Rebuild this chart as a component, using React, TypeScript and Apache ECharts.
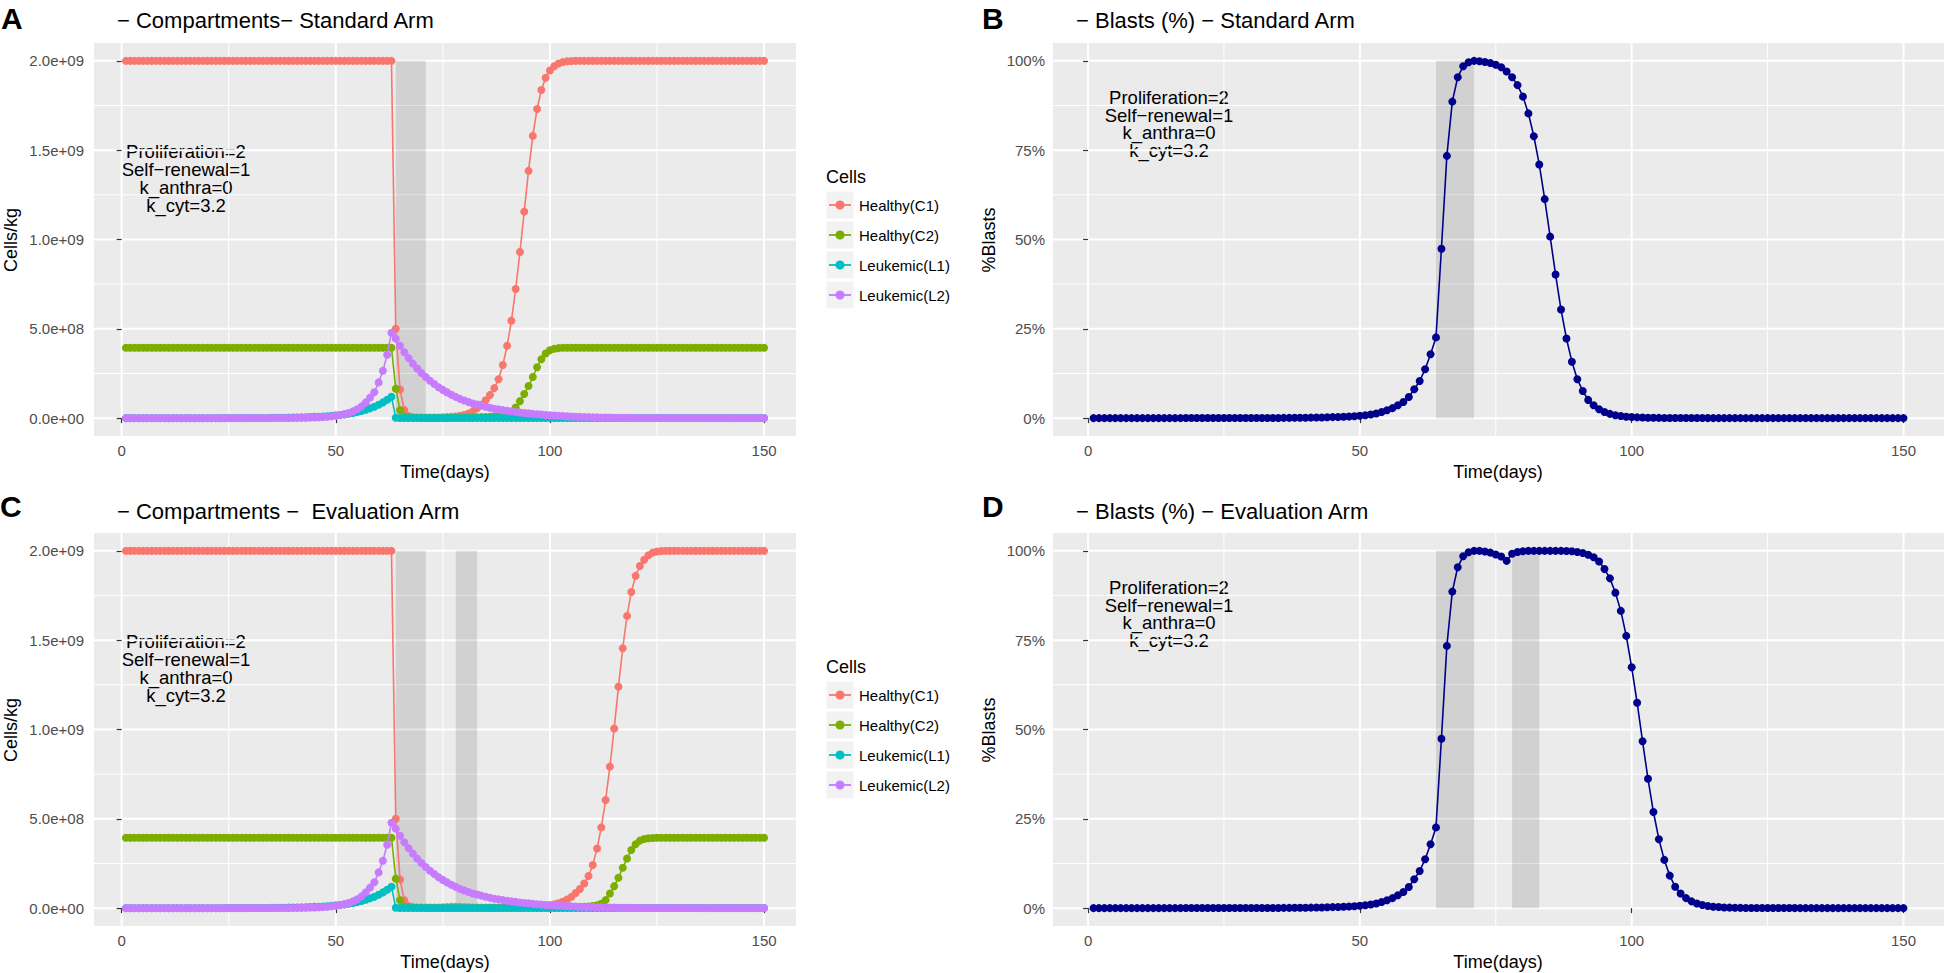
import React, { useEffect, useRef } from "react";
import * as echarts from "echarts";

const FONT = '"Liberation Sans", Arial, Helvetica, sans-serif';

// Sampling days (x values)
const DAYS = Array.from({ length: 150 }, (_, i) => i + 1);
const CELL_UNIT = 1e8; // compartment values below are in 1e8 cells/kg

// ---------- Standard arm: compartments (x 1e8 cells/kg), days 1..150 ----------
const C1_STD = [
  20, 20, 20, 20, 20, 20, 20, 20, 20, 20,
  20, 20, 20, 20, 20, 20, 20, 20, 20, 20,
  20, 20, 20, 20, 20, 20, 20, 20, 20, 20,
  20, 20, 20, 20, 20, 20, 20, 20, 20, 20,
  20, 20, 20, 20, 20, 20, 20, 20, 20, 20,
  20, 20, 20, 20, 20, 20, 20, 20, 20, 20,
  20, 20, 20, 5.0, 1.6, 0.45, 0.12, 0.05, 0.035, 0.03,
  0.028, 0.028, 0.03, 0.035, 0.045, 0.055, 0.07, 0.09, 0.13, 0.18,
  0.26, 0.38, 0.55, 0.75, 1.0, 1.3, 1.68, 2.18, 2.97, 4.05,
  5.45, 7.23, 9.3, 11.56, 13.84, 15.8, 17.31, 18.37, 19.05, 19.46,
  19.7, 19.85, 19.93, 19.97, 19.99, 20, 20, 20, 20, 20,
  20, 20, 20, 20, 20, 20, 20, 20, 20, 20,
  20, 20, 20, 20, 20, 20, 20, 20, 20, 20,
  20, 20, 20, 20, 20, 20, 20, 20, 20, 20,
  20, 20, 20, 20, 20, 20, 20, 20, 20, 20,
];

const C2_STD = [
  3.94, 3.94, 3.94, 3.94, 3.94, 3.94, 3.94, 3.94, 3.94, 3.94,
  3.94, 3.94, 3.94, 3.94, 3.94, 3.94, 3.94, 3.94, 3.94, 3.94,
  3.94, 3.94, 3.94, 3.94, 3.94, 3.94, 3.94, 3.94, 3.94, 3.94,
  3.94, 3.94, 3.94, 3.94, 3.94, 3.94, 3.94, 3.94, 3.94, 3.94,
  3.94, 3.94, 3.94, 3.94, 3.94, 3.94, 3.94, 3.94, 3.94, 3.94,
  3.94, 3.94, 3.94, 3.94, 3.94, 3.94, 3.94, 3.94, 3.94, 3.94,
  3.94, 3.94, 3.94, 1.65, 0.45, 0.1, 0.05, 0.03, 0.02, 0.015,
  0.012, 0.01, 0.01, 0.01, 0.01, 0.012, 0.014, 0.016, 0.02, 0.024,
  0.03, 0.036, 0.045, 0.055, 0.065, 0.08, 0.1, 0.13, 0.17, 0.22,
  0.3, 0.6, 0.95, 1.35, 1.8, 2.3, 2.85, 3.3, 3.62, 3.8,
  3.88, 3.92, 3.94, 3.94, 3.94, 3.94, 3.94, 3.94, 3.94, 3.94,
  3.94, 3.94, 3.94, 3.94, 3.94, 3.94, 3.94, 3.94, 3.94, 3.94,
  3.94, 3.94, 3.94, 3.94, 3.94, 3.94, 3.94, 3.94, 3.94, 3.94,
  3.94, 3.94, 3.94, 3.94, 3.94, 3.94, 3.94, 3.94, 3.94, 3.94,
  3.94, 3.94, 3.94, 3.94, 3.94, 3.94, 3.94, 3.94, 3.94, 3.94,
];

const L1_STD = [
  0.001, 0.001, 0.001, 0.001, 0.001, 0.001, 0.001, 0.001, 0.001, 0.001,
  0.001, 0.001, 0.001, 0.001, 0.001, 0.001, 0.001, 0.001, 0.001, 0.001,
  0.002, 0.002, 0.002, 0.003, 0.003, 0.003, 0.004, 0.005, 0.006, 0.007,
  0.008, 0.009, 0.01, 0.012, 0.014, 0.017, 0.02, 0.023, 0.027, 0.031,
  0.037, 0.043, 0.05, 0.06, 0.07, 0.08, 0.095, 0.11, 0.13, 0.155,
  0.18, 0.21, 0.25, 0.29, 0.34, 0.4, 0.47, 0.55, 0.64, 0.75,
  0.88, 1.03, 1.2, 0.02, 0.01, 0.008, 0.007, 0.006, 0.006, 0.005,
  0.005, 0.005, 0.005, 0.005, 0.005, 0.005, 0.005, 0.005, 0.005, 0.005,
  0.005, 0.005, 0.005, 0.005, 0.005, 0.005, 0.005, 0.005, 0.005, 0.005,
  0.004, 0.004, 0.004, 0.004, 0.004, 0.004, 0.004, 0.004, 0.004, 0.004,
  0.004, 0.004, 0.004, 0.004, 0.004, 0.004, 0.004, 0.004, 0.004, 0.004,
  0.004, 0.004, 0.004, 0.004, 0.004, 0.004, 0.004, 0.004, 0.004, 0.004,
  0.004, 0.004, 0.004, 0.004, 0.004, 0.004, 0.004, 0.004, 0.004, 0.004,
  0.004, 0.004, 0.004, 0.004, 0.004, 0.004, 0.004, 0.004, 0.004, 0.004,
  0.004, 0.004, 0.004, 0.004, 0.004, 0.004, 0.004, 0.004, 0.004, 0.004,
];

const L2_STD = [
  0.0005, 0.0005, 0.0005, 0.0005, 0.0005, 0.0005, 0.0005, 0.0005, 0.0005, 0.0005,
  0.0006, 0.0006, 0.0007, 0.0007, 0.0008, 0.0008, 0.0009, 0.001, 0.001, 0.0011,
  0.0012, 0.0013, 0.0014, 0.0015, 0.0017, 0.0019, 0.0021, 0.0023, 0.0025, 0.0028,
  0.003, 0.0033, 0.0036, 0.004, 0.0045, 0.005, 0.0058, 0.007, 0.009, 0.011,
  0.014, 0.018, 0.023, 0.029, 0.037, 0.047, 0.06, 0.078, 0.1, 0.13,
  0.17, 0.22, 0.29, 0.38, 0.5, 0.66, 0.88, 1.15, 1.45, 2.0,
  2.65, 3.55, 4.78, 4.45, 4.05, 3.69, 3.36, 3.05, 2.78, 2.53,
  2.3, 2.09, 1.91, 1.73, 1.58, 1.44, 1.31, 1.19, 1.08, 0.99,
  0.9, 0.82, 0.76, 0.7, 0.64, 0.58, 0.53, 0.49, 0.45, 0.41,
  0.38, 0.35, 0.32, 0.29, 0.27, 0.24, 0.22, 0.2, 0.18, 0.16,
  0.145, 0.13, 0.115, 0.1, 0.09, 0.08, 0.07, 0.062, 0.055, 0.048,
  0.042, 0.037, 0.032, 0.028, 0.024, 0.021, 0.018, 0.016, 0.014, 0.012,
  0.011, 0.01, 0.009, 0.008, 0.007, 0.0065, 0.006, 0.0055, 0.005, 0.0045,
  0.004, 0.0037, 0.0034, 0.0031, 0.0028, 0.0025, 0.0023, 0.0021, 0.0019, 0.0017,
  0.0016, 0.0015, 0.0014, 0.0013, 0.0012, 0.0011, 0.001, 0.001, 0.0009, 0.0009,
];

// ---------- Evaluation arm: compartments (x 1e8 cells/kg) ----------
const C1_EVAL = [
  20, 20, 20, 20, 20, 20, 20, 20, 20, 20,
  20, 20, 20, 20, 20, 20, 20, 20, 20, 20,
  20, 20, 20, 20, 20, 20, 20, 20, 20, 20,
  20, 20, 20, 20, 20, 20, 20, 20, 20, 20,
  20, 20, 20, 20, 20, 20, 20, 20, 20, 20,
  20, 20, 20, 20, 20, 20, 20, 20, 20, 20,
  20, 20, 20, 5.0, 1.6, 0.45, 0.12, 0.05, 0.035, 0.03,
  0.028, 0.028, 0.03, 0.035, 0.045, 0.055, 0.07, 0.08, 0.07, 0.055,
  0.045, 0.038, 0.033, 0.03, 0.03, 0.032, 0.035, 0.04, 0.045, 0.05,
  0.056, 0.063, 0.07, 0.078, 0.087, 0.097, 0.11, 0.125, 0.145, 0.17,
  0.21, 0.27, 0.36, 0.48, 0.63, 0.85, 1.07, 1.38, 1.8, 2.41,
  3.34, 4.52, 6.05, 7.92, 10.06, 12.4, 14.55, 16.36, 17.7, 18.6,
  19.15, 19.5, 19.75, 19.9, 19.96, 19.99, 20, 20, 20, 20,
  20, 20, 20, 20, 20, 20, 20, 20, 20, 20,
  20, 20, 20, 20, 20, 20, 20, 20, 20, 20,
];

const C2_EVAL = [
  3.94, 3.94, 3.94, 3.94, 3.94, 3.94, 3.94, 3.94, 3.94, 3.94,
  3.94, 3.94, 3.94, 3.94, 3.94, 3.94, 3.94, 3.94, 3.94, 3.94,
  3.94, 3.94, 3.94, 3.94, 3.94, 3.94, 3.94, 3.94, 3.94, 3.94,
  3.94, 3.94, 3.94, 3.94, 3.94, 3.94, 3.94, 3.94, 3.94, 3.94,
  3.94, 3.94, 3.94, 3.94, 3.94, 3.94, 3.94, 3.94, 3.94, 3.94,
  3.94, 3.94, 3.94, 3.94, 3.94, 3.94, 3.94, 3.94, 3.94, 3.94,
  3.94, 3.94, 3.94, 1.65, 0.45, 0.1, 0.05, 0.03, 0.02, 0.015,
  0.012, 0.01, 0.01, 0.01, 0.01, 0.01, 0.01, 0.009, 0.008, 0.007,
  0.006, 0.006, 0.006, 0.006, 0.007, 0.007, 0.008, 0.008, 0.009, 0.01,
  0.011, 0.012, 0.013, 0.014, 0.015, 0.017, 0.019, 0.021, 0.023, 0.026,
  0.029, 0.033, 0.037, 0.042, 0.048, 0.055, 0.065, 0.078, 0.095, 0.12,
  0.16, 0.25, 0.45, 0.82, 1.23, 1.7, 2.26, 2.78, 3.25, 3.58,
  3.78, 3.87, 3.91, 3.93, 3.94, 3.94, 3.94, 3.94, 3.94, 3.94,
  3.94, 3.94, 3.94, 3.94, 3.94, 3.94, 3.94, 3.94, 3.94, 3.94,
  3.94, 3.94, 3.94, 3.94, 3.94, 3.94, 3.94, 3.94, 3.94, 3.94,
];

const L1_EVAL = L1_STD;

const L2_EVAL = [
  0.0005, 0.0005, 0.0005, 0.0005, 0.0005, 0.0005, 0.0005, 0.0005, 0.0005, 0.0005,
  0.0006, 0.0006, 0.0007, 0.0007, 0.0008, 0.0008, 0.0009, 0.001, 0.001, 0.0011,
  0.0012, 0.0013, 0.0014, 0.0015, 0.0017, 0.0019, 0.0021, 0.0023, 0.0025, 0.0028,
  0.003, 0.0033, 0.0036, 0.004, 0.0045, 0.005, 0.0058, 0.007, 0.009, 0.011,
  0.014, 0.018, 0.023, 0.029, 0.037, 0.047, 0.06, 0.078, 0.1, 0.13,
  0.17, 0.22, 0.29, 0.38, 0.5, 0.66, 0.88, 1.15, 1.45, 2.0,
  2.65, 3.55, 4.78, 4.45, 4.05, 3.69, 3.36, 3.05, 2.78, 2.53,
  2.3, 2.09, 1.91, 1.73, 1.58, 1.44, 1.31, 1.19, 1.08, 0.99,
  0.9, 0.82, 0.76, 0.7, 0.64, 0.58, 0.53, 0.49, 0.45, 0.41,
  0.38, 0.35, 0.32, 0.29, 0.27, 0.24, 0.22, 0.2, 0.18, 0.16,
  0.15, 0.137, 0.124, 0.112, 0.1, 0.09, 0.08, 0.072, 0.064, 0.057,
  0.05, 0.044, 0.038, 0.033, 0.028, 0.024, 0.02, 0.017, 0.015, 0.013,
  0.011, 0.01, 0.009, 0.008, 0.007, 0.0065, 0.006, 0.0055, 0.005, 0.0045,
  0.004, 0.0037, 0.0034, 0.0031, 0.0028, 0.0025, 0.0023, 0.0021, 0.0019, 0.0017,
  0.0016, 0.0015, 0.0014, 0.0013, 0.0012, 0.0011, 0.001, 0.001, 0.0009, 0.0009,
];

// ---------- Blasts (%) ----------
const BLAST_STD = [
  0.01, 0.01, 0.01, 0.01, 0.01, 0.01, 0.01, 0.01, 0.01, 0.01,
  0.01, 0.01, 0.01, 0.01, 0.01, 0.01, 0.01, 0.02, 0.02, 0.02,
  0.02, 0.02, 0.02, 0.02, 0.02, 0.03, 0.03, 0.03, 0.03, 0.04,
  0.04, 0.04, 0.05, 0.05, 0.06, 0.07, 0.08, 0.09, 0.1, 0.12,
  0.14, 0.17, 0.2, 0.24, 0.28, 0.33, 0.39, 0.46, 0.55, 0.65,
  0.8, 1.0, 1.3, 1.7, 2.2, 2.8, 3.6, 4.5, 5.9, 8.1,
  10.4, 13.7, 17.9, 22.6, 47.4, 73.4, 88.6, 95.4, 98.5, 99.6,
  100, 99.9, 99.7, 99.4, 98.9, 98.2, 97.0, 95.4, 93.2, 90.0,
  85.3, 78.9, 71.0, 61.3, 50.8, 40.2, 30.4, 22.3, 15.8, 10.9,
  7.6, 5.1, 3.6, 2.5, 1.7, 1.2, 0.8, 0.6, 0.4, 0.3,
  0.22, 0.16, 0.12, 0.09, 0.07, 0.05, 0.04, 0.03, 0.025, 0.02,
  0.018, 0.016, 0.015, 0.014, 0.013, 0.012, 0.011, 0.01, 0.01, 0.01,
  0.01, 0.01, 0.01, 0.01, 0.01, 0.01, 0.01, 0.01, 0.01, 0.01,
  0.01, 0.01, 0.01, 0.01, 0.01, 0.01, 0.01, 0.01, 0.01, 0.01,
  0.01, 0.01, 0.01, 0.01, 0.01, 0.01, 0.01, 0.01, 0.01, 0.01,
];

const BLAST_EVAL = [
  0.01, 0.01, 0.01, 0.01, 0.01, 0.01, 0.01, 0.01, 0.01, 0.01,
  0.01, 0.01, 0.01, 0.01, 0.01, 0.01, 0.01, 0.02, 0.02, 0.02,
  0.02, 0.02, 0.02, 0.02, 0.02, 0.03, 0.03, 0.03, 0.03, 0.04,
  0.04, 0.04, 0.05, 0.05, 0.06, 0.07, 0.08, 0.09, 0.1, 0.12,
  0.14, 0.17, 0.2, 0.24, 0.28, 0.33, 0.39, 0.46, 0.55, 0.65,
  0.8, 1.0, 1.3, 1.7, 2.2, 2.8, 3.6, 4.5, 5.9, 8.1,
  10.4, 13.7, 17.9, 22.6, 47.4, 73.4, 88.6, 95.4, 98.5, 99.6,
  100, 100, 99.8, 99.5, 99.0, 98.4, 97.2, 99.2, 99.7, 99.9,
  100, 100, 100, 100, 100, 100, 100, 99.95, 99.9, 99.7,
  99.4, 98.9, 98.2, 97.0, 94.9, 92.3, 88.3, 83.2, 76.2, 67.4,
  57.5, 46.7, 36.2, 26.9, 19.3, 13.5, 9.1, 6.0, 4.1, 2.8,
  1.9, 1.3, 0.9, 0.6, 0.4, 0.3, 0.2, 0.15, 0.1, 0.08,
  0.06, 0.05, 0.04, 0.035, 0.03, 0.025, 0.02, 0.018, 0.016, 0.014,
  0.012, 0.011, 0.01, 0.01, 0.01, 0.01, 0.01, 0.01, 0.01, 0.01,
  0.01, 0.01, 0.01, 0.01, 0.01, 0.01, 0.01, 0.01, 0.01, 0.01,
];

// ---------- Chemotherapy windows (days) ----------
const CHEMO_STD = [[64, 71]];
const CHEMO_EVAL = [[64, 71], [78, 83]];
const CHEMO_CELLS_Y = [0, 2e9];
const CHEMO_BLAST_Y = [0, 100];

// ---------- Axis ticks ----------
const X_TICKS = [0, 50, 100, 150];
const X_MINOR = [25, 75, 125];
const X_RANGE = [-6.45, 157.45];
const CELL_TICKS = [0, 5e8, 1e9, 1.5e9, 2e9];
const CELL_MINOR = [2.5e8, 7.5e8, 1.25e9, 1.75e9];
const CELL_RANGE = [-1e8, 2.1e9];
const BLAST_TICKS = [0, 25, 50, 75, 100];
const BLAST_MINOR = [12.5, 37.5, 62.5, 87.5];
const BLAST_RANGE = [-5, 105];

const SERIES_NAMES = ["Healthy(C1)", "Healthy(C2)", "Leukemic(L1)", "Leukemic(L2)"];
const SERIES_COLORS = ["#F8766D", "#7CAE00", "#00BFC4", "#C77CFF"];
const BLAST_COLOR = "#00008B";

const TITLES = [
  "\u2212 Compartments\u2212 Standard Arm",
  "\u2212 Blasts (%) \u2212 Standard Arm",
  "\u2212 Compartments \u2212  Evaluation Arm",
  "\u2212 Blasts (%) \u2212 Evaluation Arm",
];
const PANEL_LETTERS = ["A", "B", "C", "D"];
const ANNOTATION = "Proliferation=2\nSelf\u2212renewal=1\nk_anthra=0\nk_cyt=3.2";

// Layout (pixels)
const GRIDS = [
  { left: 94, top: 43, width: 702, height: 393 },
  { left: 1053, top: 43, width: 891, height: 393 },
  { left: 94, top: 533, width: 702, height: 393 },
  { left: 1053, top: 533, width: 891, height: 393 },
];

function fmtExp(v: number): string {
  const s = v.toExponential(1);
  const [m, e] = s.split("e");
  const sign = e[0];
  const d = e.slice(1).padStart(2, "0");
  return `${m}e${sign}${d}`;
}

function pairs(values: number[], unit: number) {
  return DAYS.map((d, i) => [d, values[i] * unit]);
}

function xAxisCfg(gridIndex: number) {
  return {
    type: "value",
    gridIndex,
    min: X_RANGE[0],
    max: X_RANGE[1],
    axisLine: { show: false },
    axisTick: { show: true, customValues: X_TICKS, length: 5, lineStyle: { color: "#333333", width: 1.2 } },
    axisLabel: { customValues: X_TICKS, color: "#4D4D4D", fontSize: 15, fontFamily: FONT, margin: 7 },
    splitLine: { show: false },
  };
}

function yAxisCfg(gridIndex: number, kind: "cells" | "blast") {
  const cells = kind === "cells";
  const ticks = cells ? CELL_TICKS : BLAST_TICKS;
  const range = cells ? CELL_RANGE : BLAST_RANGE;
  return {
    type: "value",
    gridIndex,
    min: range[0],
    max: range[1],
    axisLine: { show: false },
    axisTick: { show: true, customValues: ticks, length: 5, lineStyle: { color: "#333333", width: 1.2 } },
    axisLabel: {
      customValues: ticks,
      color: "#4D4D4D",
      fontSize: 15,
      fontFamily: FONT,
      margin: cells ? 10 : 8,
      formatter: (v: number) => (cells ? fmtExp(v) : `${v}%`),
    },
    splitLine: { show: false },
  };
}

function gridLineSeries(idx: number, yMajor: number[], yMinor: number[], yRef: number) {
  const data = [
    ...X_MINOR.map((v) => [v, yRef, 1]),
    ...yMinor.map((v) => [0, v, 3]),
    ...X_TICKS.map((v) => [v, yRef, 0]),
    ...yMajor.map((v) => [0, v, 2]),
  ];
  return {
    type: "custom",
    xAxisIndex: idx,
    yAxisIndex: idx,
    silent: true,
    z: 0,
    clip: false,
    encode: { x: 0, y: 1 },
    data,
    renderItem: (params: any, api: any) => {
      const cs = params.coordSys;
      const kind = api.value(2);
      const p = api.coord([api.value(0), api.value(1)]);
      const w = kind === 0 || kind === 2 ? 2 : 1;
      if (kind < 2) {
        return {
          type: "line",
          shape: { x1: p[0], y1: cs.y, x2: p[0], y2: cs.y + cs.height },
          style: { stroke: "#FFFFFF", lineWidth: w },
        };
      }
      return {
        type: "line",
        shape: { x1: cs.x, y1: p[1], x2: cs.x + cs.width, y2: p[1] },
        style: { stroke: "#FFFFFF", lineWidth: w },
      };
    },
  };
}

function chemoSeries(idx: number, windows: number[][], yr: number[]) {
  return {
    type: "custom",
    xAxisIndex: idx,
    yAxisIndex: idx,
    silent: true,
    z: 1,
    encode: { x: [0, 1], y: [2, 3] },
    data: windows.map(([a, b]) => [a, b, yr[0], yr[1]]),
    renderItem: (_params: any, api: any) => {
      const p1 = api.coord([api.value(0), api.value(3)]);
      const p2 = api.coord([api.value(1), api.value(2)]);
      return {
        type: "rect",
        shape: { x: p1[0], y: p1[1], width: p2[0] - p1[0], height: p2[1] - p1[1] },
        style: { fill: "rgba(0,0,0,0.11)" },
      };
    },
  };
}

function lineSeries(idx: number, name: string, color: string, data: number[][], z: number) {
  return {
    type: "line",
    name,
    xAxisIndex: idx,
    yAxisIndex: idx,
    data,
    z,
    silent: true,
    symbol: "circle",
    symbolSize: 8,
    showSymbol: true,
    showAllSymbol: true,
    lineStyle: { color, width: 1.6 },
    itemStyle: { color },
  };
}

function textEl(x: number, y: number, text: string, font: string, align = "left", extra: any = {}) {
  return {
    type: "text",
    x,
    y,
    silent: true,
    ...extra,
    style: {
      text,
      font,
      fill: "#000000",
      textAlign: align,
      textVerticalAlign: "middle",
      ...(extra.style || {}),
    },
  };
}

function legendEls(top: number) {
  const els: any[] = [];
  els.push(textEl(826, top, "Cells", `18px ${FONT}`));
  SERIES_NAMES.forEach((name, i) => {
    const cy = top + 28 + i * 30;
    els.push({ type: "rect", silent: true, shape: { x: 826.5, y: cy - 13.5, width: 27, height: 27 }, style: { fill: "#F2F2F2" } });
    els.push({ type: "line", silent: true, shape: { x1: 829, y1: cy, x2: 851, y2: cy }, style: { stroke: SERIES_COLORS[i], lineWidth: 1.8 } });
    els.push({ type: "circle", silent: true, shape: { cx: 840, cy, r: 4.5 }, style: { fill: SERIES_COLORS[i] } });
    els.push(textEl(859, cy, name, `15px ${FONT}`));
  });
  return els;
}

function buildOption() {
  const cellsStd = [C1_STD, C2_STD, L1_STD, L2_STD];
  const cellsEval = [C1_EVAL, C2_EVAL, L1_EVAL, L2_EVAL];

  const series: any[] = [];
  // Panel A (grid 0) & C (grid 2): compartments
  [[0, cellsStd, CHEMO_STD], [2, cellsEval, CHEMO_EVAL]].forEach(([idx, sets, chemo]: any) => {
    series.push(gridLineSeries(idx, CELL_TICKS, CELL_MINOR, 1e9));
    series.push(chemoSeries(idx, chemo, CHEMO_CELLS_Y));
    sets.forEach((vals: number[], i: number) => {
      series.push(lineSeries(idx, SERIES_NAMES[i], SERIES_COLORS[i], pairs(vals, CELL_UNIT), 2 + i));
    });
  });
  // Panel B (grid 1) & D (grid 3): blasts
  [[1, BLAST_STD, CHEMO_STD], [3, BLAST_EVAL, CHEMO_EVAL]].forEach(([idx, vals, chemo]: any) => {
    series.push(gridLineSeries(idx, BLAST_TICKS, BLAST_MINOR, 50));
    series.push(chemoSeries(idx, chemo, CHEMO_BLAST_Y));
    series.push(lineSeries(idx, "%Blasts", BLAST_COLOR, pairs(vals, 1), 3));
  });

  const graphics: any[] = [];
  const titlePos = [[117, 20], [1076, 20], [117, 511], [1076, 511]];
  const letterPos = [[1, 18], [982, 18], [0, 506], [982, 506]];
  TITLES.forEach((t, i) => {
    graphics.push(textEl(titlePos[i][0], titlePos[i][1], t, `22px ${FONT}`, "left", { style: { whiteSpace: "pre" } }));
    graphics.push(textEl(letterPos[i][0], letterPos[i][1], PANEL_LETTERS[i], `bold 30px ${FONT}`));
  });
  // axis titles
  [[445, 472], [1498, 472], [445, 962], [1498, 962]].forEach(([x, y]) => {
    graphics.push(textEl(x, y, "Time(days)", `18px ${FONT}`, "center"));
  });
  [[11, 240, "Cells/kg"], [989, 240, "%Blasts"], [11, 730, "Cells/kg"], [989, 730, "%Blasts"]].forEach(([x, y, t]: any) => {
    graphics.push(textEl(x, y, t, `18px ${FONT}`, "center", { rotation: Math.PI / 2 }));
  });
  // annotations
  [[186, 178.5], [1169, 124], [186, 668.5], [1169, 614]].forEach(([x, y]) => {
    graphics.push(textEl(x, y, ANNOTATION, `18.5px ${FONT}`, "center", { style: { lineHeight: 17.7 } }));
  });
  // legends
  graphics.push(...legendEls(177));
  graphics.push(...legendEls(667));

  return {
    animation: false,
    backgroundColor: "#FFFFFF",
    grid: GRIDS.map((g) => ({ ...g, show: true, backgroundColor: "#EBEBEB", borderWidth: 0, containLabel: false })),
    xAxis: [0, 1, 2, 3].map((i) => xAxisCfg(i)),
    yAxis: [yAxisCfg(0, "cells"), yAxisCfg(1, "blast"), yAxisCfg(2, "cells"), yAxisCfg(3, "blast")],
    series,
    graphic: { elements: graphics },
  };
}

export default function App() {
  const ref = useRef<HTMLDivElement>(null);
  useEffect(() => {
    if (!ref.current) return;
    const chart = echarts.init(ref.current, null, { renderer: "svg" });
    chart.setOption(buildOption() as any);
    return () => chart.dispose();
  }, []);
  return (
    <div
      ref={ref}
      style={{ position: "absolute", left: 0, top: 0, width: 1944, height: 973, background: "#fff" }}
    />
  );
}
